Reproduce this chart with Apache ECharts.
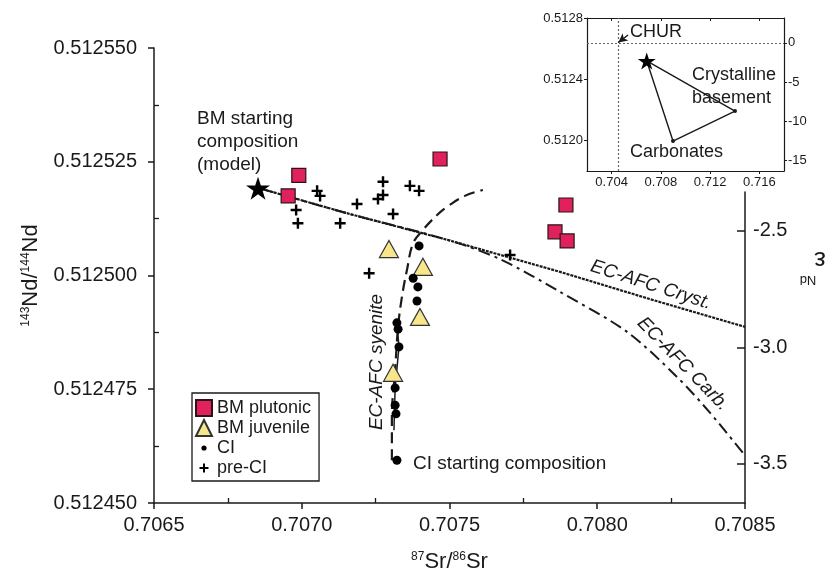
<!DOCTYPE html>
<html>
<head>
<meta charset="utf-8">
<script src="https://cdn.jsdelivr.net/npm/echarts@6/dist/echarts.min.js"></script>
<style>
  html, body { margin: 0; padding: 0; background: #fff; }
  #chart { width: 828px; height: 579px; }
</style>
</head>
<body>
<div id="chart"></div>
<script>
const FONT = "'Liberation Sans', Arial, sans-serif";
const INK = "#1a1a1a";

// axis ticks
const SR_TICKS = [0.7065, 0.7070, 0.7075, 0.7080, 0.7085];
const SR_MINOR = [0.70675, 0.70725, 0.70775, 0.70825];
const ND_TICKS = [0.51245, 0.512475, 0.5125, 0.512525, 0.51255];
const ND_MINOR = [0.5124625, 0.5124875, 0.5125125, 0.5125375];
const EPS_TICKS = [-2.5, -3.0, -3.5];

// samples
const bmPlutonic = [
  [0.70699, 0.512522], [0.706954, 0.5125175], [0.707468, 0.5125256],
  [0.707894, 0.5125155], [0.707857, 0.5125096], [0.707898, 0.5125076]
];
const bmJuvenile = [
  [0.707295, 0.5125058], [0.70741, 0.5125019], [0.7074, 0.5124909], [0.707309, 0.5124786]
];
const ciSamples = [
  [0.707397, 0.5125065], [0.707377, 0.5124994], [0.707393, 0.5124975], [0.70739, 0.5124944],
  [0.707322, 0.5124896], [0.707326, 0.5124882], [0.707329, 0.5124843], [0.707316, 0.5124753],
  [0.707316, 0.5124715], [0.707319, 0.5124696], [0.707322, 0.5124594]
];
const preCI = [
  [0.707052, 0.5125186], [0.707062, 0.5125175], [0.706981, 0.5125144], [0.706987, 0.5125115],
  [0.70713, 0.5125115], [0.707187, 0.5125157], [0.707275, 0.5125206], [0.707275, 0.5125177],
  [0.707258, 0.5125168], [0.707309, 0.5125135], [0.707366, 0.5125197], [0.707397, 0.5125186],
  [0.707228, 0.5125005], [0.707705, 0.5125045]
];
const bmStart = [0.706852, 0.5125192];

// model curves
const afcCryst = [
  [0.706866, 0.512519], [0.707163, 0.5125135], [0.707495, 0.5125078],
  [0.707874, 0.5125008], [0.708179, 0.5124948], [0.7085, 0.5124887]
];
const afcCarb = [
  [0.706866, 0.512519], [0.707163, 0.5125135], [0.707495, 0.5125078], [0.707671, 0.5125036],
  [0.707874, 0.5124964], [0.708101, 0.5124876], [0.70827, 0.5124777],
  [0.708382, 0.5124698], [0.708493, 0.512461]
];
const afcSyenite = [
  [0.707305, 0.5124594], [0.707305, 0.5124689], [0.707316, 0.5124792], [0.707326, 0.5124887],
  [0.707339, 0.5124953], [0.707356, 0.5125012], [0.707377, 0.5125071], [0.70741, 0.51251],
  [0.707458, 0.5125133], [0.707492, 0.5125151], [0.707552, 0.5125175], [0.707613, 0.5125188]
];
const ciTrend = [[0.707322, 0.5124896], [0.707329, 0.5124843], [0.707316, 0.5124753], [0.707312, 0.512466]];

// inset
const INSET_SR = [0.702, 0.718];
const INSET_ND = [0.5118, 0.5128];
const CHUR = [0.7045, 0.512638];
const INSET_X_TICKS = [0.704, 0.708, 0.712, 0.716];
const INSET_Y_TICKS = [0.5128, 0.5124, 0.512];
const INSET_EPS_TICKS = [0, -5, -10, -15];
const crystBasement = [0.71402, 0.512192];
const carbonates = [0.708985, 0.511996];
const churArrow = [[0.70533, 0.512689], [0.70455, 0.51264]];

const eps = (nd) => (nd / CHUR[1] - 1) * 1e4;

const STAR = "path://M0,-10L2.245,-3.09L9.51,-3.09L3.633,1.18L5.88,8.09L0,3.82L-5.88,8.09L-3.633,1.18L-9.51,-3.09L-2.245,-3.09Z";
const PLUS = "path://M-1.1,-5H1.1V-1.1H5V1.1H1.1V5H-1.1V1.1H-5V-1.1H-1.1Z";
const PLUS_ICON = "path://M-8,-8M8,8M-1,-4.5H1V-1H4.5V1H1V4.5H-1V1H-4.5V-1H-1Z";
const DOT_ICON = "path://M-8,-8M8,8M0,-2.6A2.6,2.6,0,1,1,0,2.6A2.6,2.6,0,1,1,0,-2.6Z";

const lineAxis = { onZero: false, lineStyle: { color: INK, width: 1.5 } };
const insetLine = { show: true, onZero: false, lineStyle: { color: INK, width: 1.2 } };
const tickLabel = (size) => ({ color: INK, fontFamily: FONT, fontSize: size });
const guideStyle = { color: "#666", type: [2, 2], width: 1.2 };

const chart = echarts.init(document.getElementById("chart"));

const option = {
  animation: false,
  backgroundColor: "#fff",
  textStyle: { fontFamily: FONT, color: INK },
  grid: [
    { left: 154, right: 83, top: 48, bottom: 76 },
    { left: 154, right: 83, top: 192, bottom: 76 },
    { left: 587, top: 18, width: 197, height: 153 }
  ],
  legend: {
    left: 192, top: 393,
    orient: "vertical",
    padding: [6, 8, 4, 3],
    itemGap: 2, itemWidth: 16, itemHeight: 16,
    borderColor: INK, borderWidth: 1.3,
    textStyle: { fontSize: 18, lineHeight: 18, color: INK, fontFamily: FONT },
    data: [
      { name: "BM plutonic", icon: "rect" },
      { name: "BM juvenile", icon: "triangle" },
      { name: "CI", icon: DOT_ICON },
      { name: "pre-CI", icon: PLUS_ICON }
    ]
  },
  xAxis: [
    {
      gridIndex: 0, type: "value", min: 0.7065, max: 0.7085, position: "bottom",
      axisLine: lineAxis, splitLine: { show: false },
      axisTick: { customValues: SR_TICKS, length: 6, lineStyle: { color: INK, width: 1.5 } },
      axisLabel: { customValues: SR_TICKS, margin: 12, formatter: (v) => v.toFixed(4), ...tickLabel(20) },
      name: "{sup|87}Sr/{sup|86}Sr", nameLocation: "middle", nameGap: 48,
      nameTextStyle: {
        fontSize: 22, color: INK, fontFamily: FONT,
        rich: { sup: { fontSize: 12, verticalAlign: "top", color: INK, fontFamily: FONT } }
      }
    },
    {
      gridIndex: 0, type: "value", min: 0.7065, max: 0.7085, position: "bottom",
      axisLine: { show: false, onZero: false }, splitLine: { show: false }, axisLabel: { show: false },
      axisTick: { inside: true, customValues: SR_MINOR, length: 5, lineStyle: { color: INK, width: 1.3 } }
    },
    { gridIndex: 1, type: "value", min: 0.7065, max: 0.7085, show: false },
    {
      gridIndex: 2, type: "value", min: INSET_SR[0], max: INSET_SR[1], position: "bottom",
      axisLine: insetLine, splitLine: { show: false },
      axisTick: { customValues: INSET_X_TICKS, length: 3, lineStyle: { color: INK } },
      axisLabel: { customValues: INSET_X_TICKS, margin: 5, formatter: (v) => v.toFixed(3), ...tickLabel(13) }
    },
    {
      gridIndex: 2, type: "value", min: INSET_SR[0], max: INSET_SR[1], position: "top",
      axisLine: insetLine, splitLine: { show: false },
      axisLabel: { show: false },
      axisTick: { inside: true, customValues: INSET_X_TICKS, length: 3, lineStyle: { color: INK } }
    }
  ],
  yAxis: [
    {
      gridIndex: 0, type: "value", min: 0.51245, max: 0.51255, position: "left",
      axisLine: { show: true, ...lineAxis }, splitLine: { show: false },
      axisTick: { customValues: ND_TICKS, length: 6, lineStyle: { color: INK, width: 1.5 } },
      axisLabel: { customValues: ND_TICKS, margin: 17, formatter: (v) => v.toFixed(6), ...tickLabel(20) },
      name: "{sup|143}Nd/{sup|144}Nd", nameLocation: "middle", nameGap: 112, nameRotate: 90,
      nameTextStyle: {
        fontSize: 22, color: INK, fontFamily: FONT,
        rich: { sup: { fontSize: 12, verticalAlign: "top", color: INK, fontFamily: FONT } }
      }
    },
    {
      gridIndex: 0, type: "value", min: 0.51245, max: 0.51255, position: "left",
      axisLine: { show: false, onZero: false }, splitLine: { show: false }, axisLabel: { show: false },
      axisTick: { show: true, inside: true, customValues: ND_MINOR, length: 5, lineStyle: { color: INK, width: 1.3 } }
    },
    {
      gridIndex: 1, type: "value", position: "right",
      min: eps(0.51245), max: eps(0.51255 - 0.0001 * 144 / 455),
      axisLine: { show: true, ...lineAxis }, splitLine: { show: false },
      axisTick: { show: true, inside: true, customValues: EPS_TICKS, length: 8, lineStyle: { color: INK, width: 1.5 } },
      axisLabel: { customValues: EPS_TICKS, margin: 8, formatter: (v) => v.toFixed(1), ...tickLabel(20) }
    },
    {
      gridIndex: 2, type: "value", min: INSET_ND[0], max: INSET_ND[1], position: "left",
      axisLine: insetLine, splitLine: { show: false },
      axisTick: { show: true, customValues: INSET_Y_TICKS, length: 3, lineStyle: { color: INK } },
      axisLabel: { customValues: INSET_Y_TICKS, margin: 4, formatter: (v) => v.toFixed(4), ...tickLabel(13) }
    },
    {
      gridIndex: 2, type: "value", position: "right", min: eps(INSET_ND[0]), max: eps(INSET_ND[1]),
      axisLine: insetLine, splitLine: { show: false },
      axisTick: { show: true, customValues: INSET_EPS_TICKS, length: 3, lineStyle: { color: INK } },
      axisLabel: { customValues: INSET_EPS_TICKS, margin: 4, ...tickLabel(13) }
    }
  ],
  graphic: [
    { type: "text", left: 197, top: 107, style: { text: "BM starting\ncomposition\n(model)", fontSize: 19, lineHeight: 23, fontFamily: FONT, fill: INK } },
    { type: "text", left: 413, top: 454, style: { text: "CI starting composition", fontSize: 19, fontFamily: FONT, fill: INK } },
    { type: "text", x: 377, y: 362, rotation: Math.PI / 2, style: { text: "EC-AFC syenite", fontSize: 19, fontStyle: "italic", fontFamily: FONT, fill: INK, align: "center", verticalAlign: "middle" } },
    { type: "text", x: 651, y: 285, rotation: -0.31, style: { text: "EC-AFC Cryst.", fontSize: 19, fontStyle: "italic", fontFamily: FONT, fill: INK, align: "center", verticalAlign: "middle" } },
    { type: "text", x: 683, y: 364, rotation: -0.8, style: { text: "EC-AFC Carb.", fontSize: 19, fontStyle: "italic", fontFamily: FONT, fill: INK, align: "center", verticalAlign: "middle" } },
    { type: "text", x: 820, y: 259, rotation: Math.PI, style: { text: "ε", fontSize: 26, fontFamily: FONT, fill: INK, align: "center", verticalAlign: "middle" } },
    { type: "text", x: 808, y: 280, rotation: Math.PI, style: { text: "Nd", fontSize: 13, fontFamily: FONT, fill: INK, align: "center", verticalAlign: "middle" } },
    { type: "text", left: 630, top: 23, z: 20, style: { text: "CHUR", fontSize: 18, fontFamily: FONT, fill: INK } },
    { type: "text", left: 692, top: 64, z: 20, style: { text: "Crystalline\nbasement", fontSize: 18, lineHeight: 23, fontFamily: FONT, fill: INK } },
    { type: "text", left: 630, top: 143, z: 20, style: { text: "Carbonates", fontSize: 18, fontFamily: FONT, fill: INK } }
  ],
  series: [
    {
      name: "EC-AFC Cryst.", type: "line", xAxisIndex: 0, yAxisIndex: 0, z: 1,
      data: afcCryst, showSymbol: false, symbol: "none",
      lineStyle: { color: INK, width: 2.2, type: [3, 1] }
    },
    {
      name: "EC-AFC Carb.", type: "line", xAxisIndex: 0, yAxisIndex: 0, z: 1,
      data: afcCarb, showSymbol: false, symbol: "none", smooth: 0.3,
      lineStyle: { color: INK, width: 2, type: [12, 5, 3, 5] }
    },
    {
      name: "EC-AFC syenite", type: "line", xAxisIndex: 0, yAxisIndex: 0, z: 1,
      data: afcSyenite, showSymbol: false, symbol: "none", smooth: 0.4,
      lineStyle: { color: INK, width: 2.2, type: [11, 6] }
    },
    {
      name: "CI trend", type: "line", xAxisIndex: 0, yAxisIndex: 0, z: 1,
      data: ciTrend, showSymbol: false, symbol: "none",
      lineStyle: { color: INK, width: 1.5 }
    },
    {
      name: "BM plutonic", type: "scatter", xAxisIndex: 0, yAxisIndex: 0, z: 3,
      data: bmPlutonic, symbol: "rect", symbolSize: 14,
      itemStyle: { color: "#e0215c", borderColor: "#2a1418", borderWidth: 1.2, opacity: 1 }
    },
    {
      name: "BM juvenile", type: "scatter", xAxisIndex: 0, yAxisIndex: 0, z: 3,
      data: bmJuvenile, symbol: "triangle", symbolSize: [19, 17],
      itemStyle: { color: "#f7e68c", borderColor: "#333", borderWidth: 1.2, opacity: 1 }
    },
    {
      name: "CI", type: "scatter", xAxisIndex: 0, yAxisIndex: 0, z: 3,
      data: ciSamples, symbol: "circle", symbolSize: 9,
      itemStyle: { color: "#000", opacity: 1 }
    },
    {
      name: "pre-CI", type: "scatter", xAxisIndex: 0, yAxisIndex: 0, z: 3,
      data: preCI, symbol: PLUS, symbolSize: 11,
      itemStyle: { color: "#000", opacity: 1 }
    },
    {
      name: "BM start", type: "scatter", xAxisIndex: 0, yAxisIndex: 0, z: 4,
      data: [bmStart], symbol: STAR, symbolSize: [24, 23],
      itemStyle: { color: "#000", opacity: 1 }
    },
    {
      name: "inset mixing", type: "line", xAxisIndex: 3, yAxisIndex: 3, z: 10,
      data: [bmStart, crystBasement, carbonates, bmStart],
      symbol: "circle", symbolSize: 4, showSymbol: true,
      itemStyle: { color: INK }, lineStyle: { color: INK, width: 1.4 }
    },
    {
      name: "inset start", type: "scatter", xAxisIndex: 3, yAxisIndex: 3, z: 11,
      data: [bmStart], symbol: STAR, symbolSize: [18, 17],
      itemStyle: { color: "#000", opacity: 1 },
      markLine: {
        silent: true, symbol: "none", label: { show: false },
        lineStyle: { color: INK, type: "solid", width: 1.4 },
        data: [
          [{ coord: [CHUR[0], INSET_ND[0]], lineStyle: guideStyle }, { coord: [CHUR[0], INSET_ND[1]] }],
          [{ coord: [INSET_SR[0], CHUR[1]], lineStyle: guideStyle }, { coord: [INSET_SR[1], CHUR[1]] }],
          [{ coord: churArrow[0] }, { coord: churArrow[1], symbol: "arrow", symbolSize: [7, 9] }]
        ]
      }
    }
  ]
};

chart.setOption(option);
</script>
</body>
</html>
